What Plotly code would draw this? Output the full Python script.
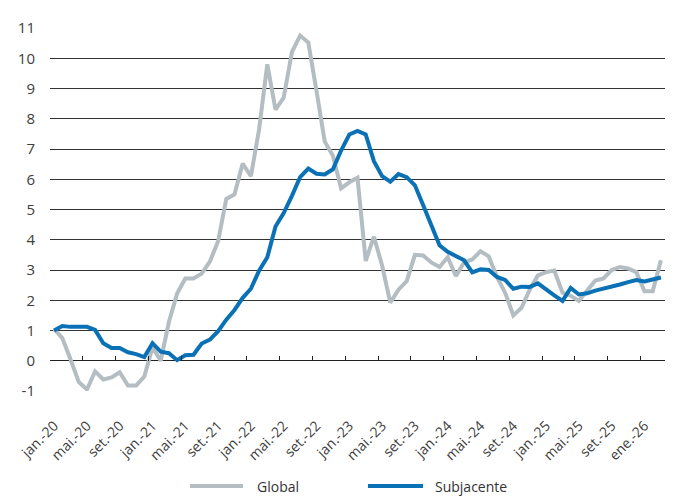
import plotly.graph_objects as go

# ---- data ----
month_abbr = ["jan.", "fev.", "mar.", "abr.", "mai.", "jun.", "jul.", "ago.", "set.", "out.", "nov.", "dez."]
years = [20, 21, 22, 23, 24, 25, 26]
categories = []
for yy in years:
    for m in month_abbr:
        categories.append(f"{m}-{yy}")
categories = categories[:75]          # jan.-20 ... mar.-26
categories[72] = "ene.-26"

global_vals = [1.05, 0.75, 0.05, -0.7, -0.95, -0.35, -0.62, -0.55, -0.38, -0.82,
               -0.82, -0.52, 0.45, 0.0, 1.28, 2.22, 2.72, 2.72, 2.88, 3.28,
               3.95, 5.35, 5.5, 6.52, 6.1, 7.65, 9.8, 8.3, 8.7, 10.2,
               10.75, 10.52, 8.92, 7.25, 6.78, 5.7, 5.9, 6.05, 3.3, 4.1,
               3.15, 1.92, 2.35, 2.63, 3.5, 3.48, 3.25, 3.1, 3.42, 2.8,
               3.25, 3.35, 3.62, 3.45, 2.78, 2.25, 1.5, 1.75, 2.35, 2.82,
               2.93, 2.98, 2.25, 2.15, 1.98, 2.3, 2.65, 2.72, 3.0, 3.1,
               3.05, 2.93, 2.3, 2.3, 3.32]

core_vals = [1.0, 1.15, 1.12, 1.12, 1.12, 1.02, 0.58, 0.42, 0.42, 0.28,
             0.22, 0.12, 0.58, 0.3, 0.25, 0.02, 0.18, 0.2, 0.57, 0.7,
             0.98, 1.36, 1.68, 2.08, 2.38, 2.98, 3.42, 4.44, 4.88, 5.45,
             6.07, 6.35, 6.18, 6.16, 6.33, 6.95, 7.48, 7.6, 7.48, 6.6,
             6.1, 5.92, 6.17, 6.07, 5.8, 5.15, 4.45, 3.82, 3.6, 3.47,
             3.32, 2.92, 3.02, 3.0, 2.77, 2.67, 2.38, 2.45, 2.44, 2.56,
             2.35, 2.16, 1.98, 2.41, 2.19, 2.23, 2.32, 2.38, 2.44, 2.52,
             2.6, 2.67, 2.62, 2.7, 2.75]

series_names = ["Global", "Subjacente"]
series_colors = ["#b4bdc1", "#0a71b6"]

y_ticks = list(range(-1, 12))
x_tick_positions = list(range(0, 75, 4))

# ---- figure ----
fig = go.Figure()
for name, vals, col in zip(series_names, [global_vals, core_vals], series_colors):
    fig.add_trace(go.Scatter(
        x=categories, y=vals, mode="lines", name=name,
        line=dict(color=col, width=4), showlegend=False))

# invisible trace to carry the tick axis located on the zero line
fig.add_trace(go.Scatter(x=[0], y=[None], xaxis="x2", mode="lines",
                         showlegend=False, hoverinfo="skip"))

font_family = "Open Sans"
tick_color = "#404040"

fig.update_layout(
    width=666, height=490,
    margin=dict(l=42, r=9, t=11, b=107),
    paper_bgcolor="white", plot_bgcolor="white",
    font=dict(family=font_family, size=14, color=tick_color),
    xaxis=dict(
        type="category",
        range=[-0.5, 74.5],
        tickmode="array",
        tickvals=[categories[i] for i in x_tick_positions],
        ticktext=[categories[i] for i in x_tick_positions],
        tickangle=-45,
        ticks="",
        showgrid=False, showline=False, zeroline=False,
        tickfont=dict(size=14, color=tick_color),
        ticklabelstandoff=23,
    ),
    xaxis2=dict(
        type="linear",
        overlaying="x",
        anchor="free",
        position=1 / 12,
        side="bottom",
        range=[-0.5, 74.5],
        tickmode="array",
        tickvals=[i - 0.5 for i in x_tick_positions],
        ticks="inside", ticklen=5, tickwidth=1, tickcolor="#222222",
        showticklabels=False,
        showgrid=False, showline=False, zeroline=False,
    ),
    yaxis=dict(
        range=[-1, 11],
        tickmode="array",
        tickvals=y_ticks,
        ticktext=[str(v) for v in y_ticks],
        showgrid=True, gridcolor="#333333", gridwidth=1,
        zeroline=True, zerolinecolor="#222222", zerolinewidth=1,
        showline=False, ticks="",
        tickfont=dict(size=15, color=tick_color),
        ticklabelstandoff=14,
    ),
)

# legend drawn below the plot
legend_items = [
    (series_names[0], series_colors[0], 0.2276, 0.3138, 0.334),
    (series_names[1], series_colors[1], 0.517, 0.6065, 0.623),
]
ly = -0.262
for name, col, x0, x1, xt in legend_items:
    fig.add_shape(type="line", xref="paper", yref="paper",
                  x0=x0, x1=x1, y0=ly, y1=ly,
                  line=dict(color=col, width=4))
    fig.add_annotation(xref="paper", yref="paper", x=xt, y=ly,
                       text=name, showarrow=False, xanchor="left",
                       yanchor="middle",
                       font=dict(size=14, color="#333333", family=font_family))

fig.write_html("out.html")
